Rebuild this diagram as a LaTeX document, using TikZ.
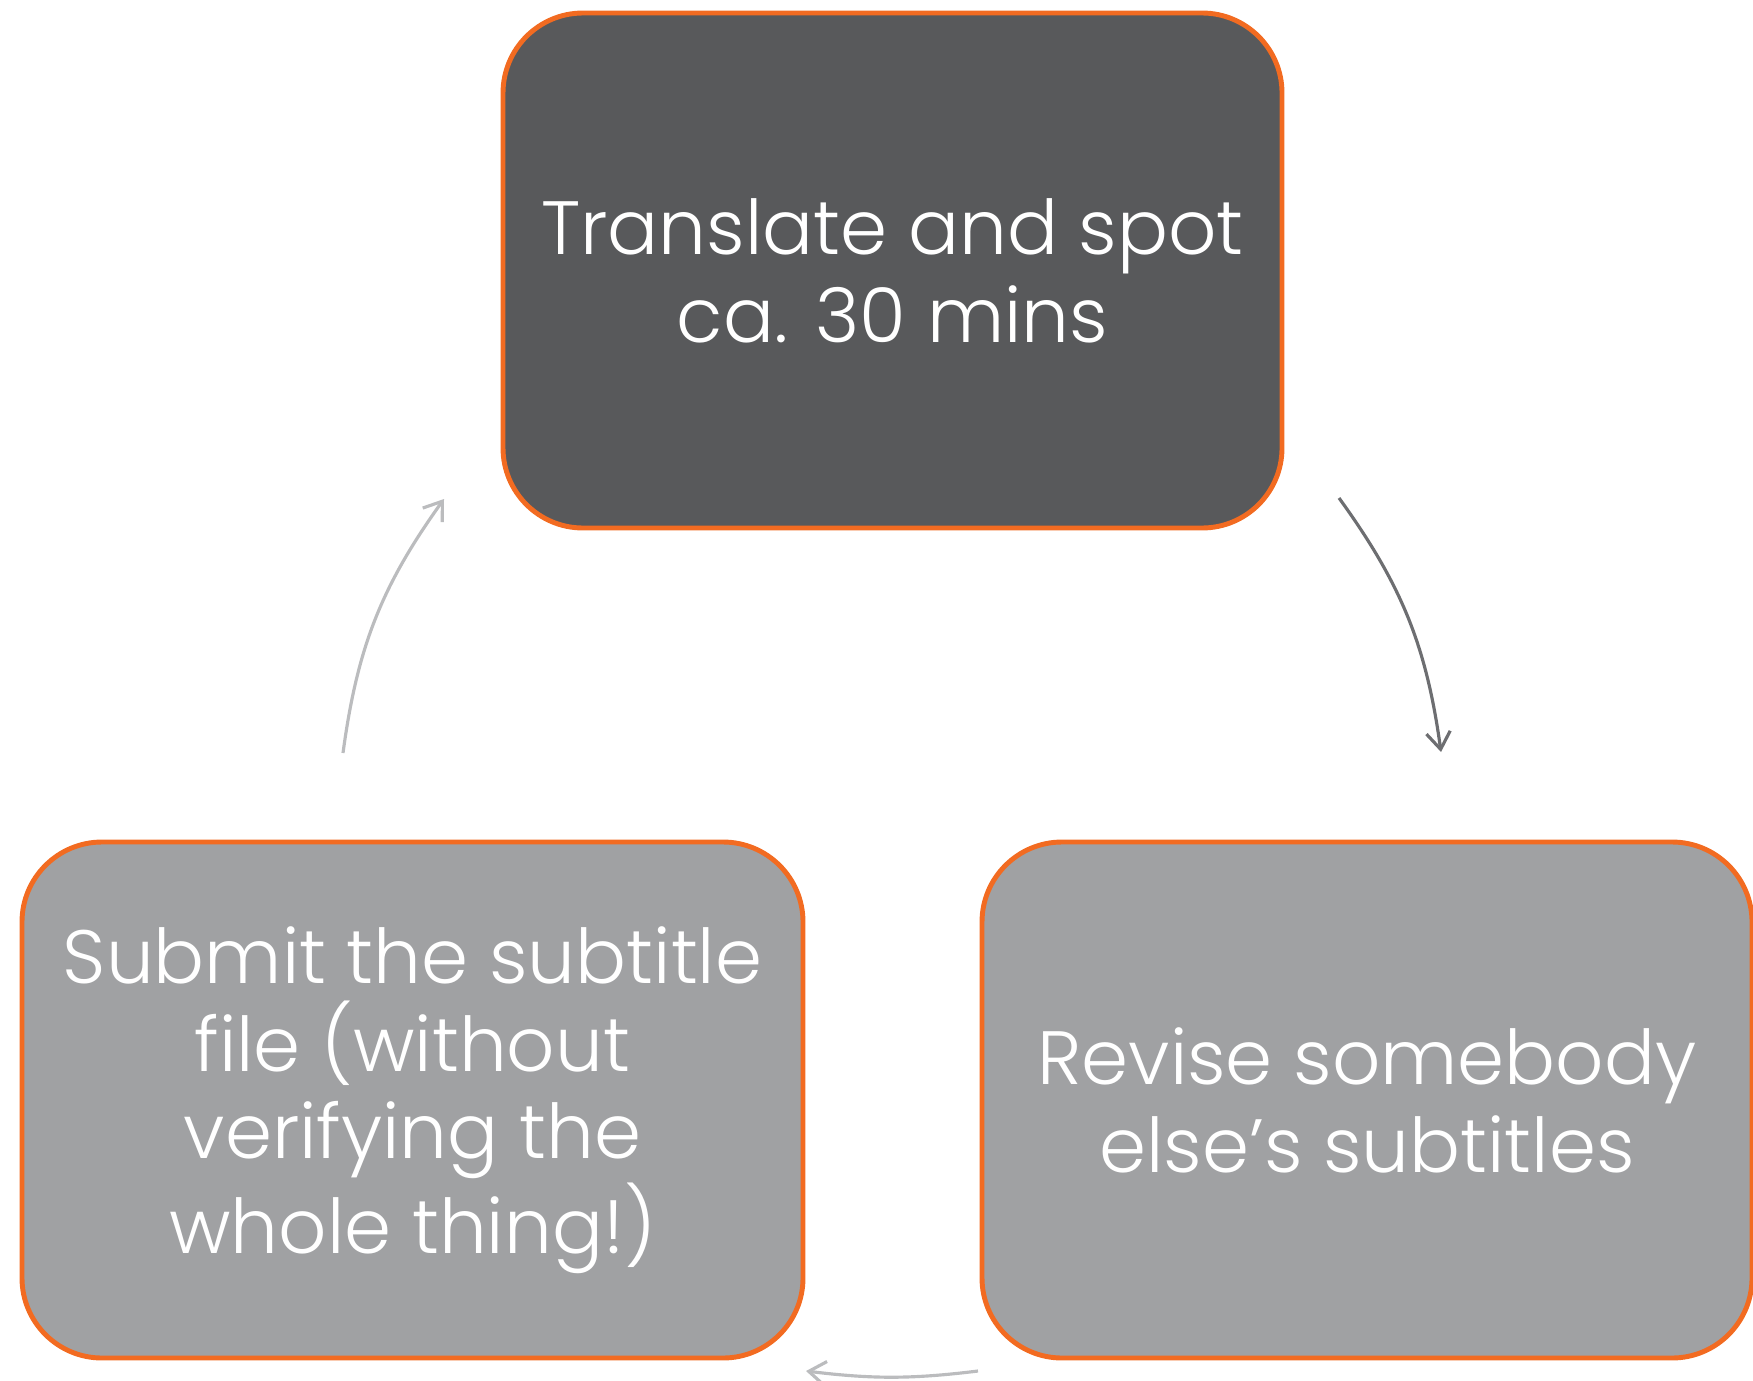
\documentclass[tikz,border=0pt]{standalone}
\usepackage{fontspec}
\setmainfont{Poppins Light}
\usetikzlibrary{arrows.meta}
\definecolor{boxorange}{HTML}{F26B21}
\definecolor{darkbox}{HTML}{58595B}
\definecolor{lightbox}{HTML}{A0A1A3}
\definecolor{arrdark}{HTML}{6D6E71}
\definecolor{arrlight}{HTML}{BBBCBE}
\begin{document}
\begin{tikzpicture}[
		stepbox/.style={draw=boxorange, line width=1.4pt, rounded corners=0.8cm, align=center, text=white, font=\fontsize{21.5}{25}\selectfont, inner sep=0pt},
		cyclearrow/.style={line width=0.9pt, -{Straight Barb[length=1.7mm,width=2.4mm]}}]
		\useasboundingbox (0,0) rectangle (17.53,-13.80);
		
		\node[stepbox, fill=darkbox, minimum width=7.79cm, minimum height=5.15cm] at (8.925,-2.705) (translate) {Translate and spot\\ca. 30 mins};
		\node[stepbox, fill=lightbox, minimum width=7.70cm, minimum height=5.16cm] at (13.67,-11.00) (revise) {Revise somebody\\else’s subtitles};
		\node[stepbox, fill=lightbox, minimum width=7.81cm, minimum height=5.16cm] at (4.125,-11.00) (submit) {Submit the subtitle\\file (without\\verifying the\\whole thing!)};
		
		\coordinate (ra) at (13.39,-4.98);
		\coordinate (rb) at (14.41,-7.52);
		\coordinate (ba) at (9.78,-13.71);
		\coordinate (bb) at (8.06,-13.71);
		\coordinate (la) at (3.43,-7.53);
		\coordinate (lb) at (4.44,-4.99);
		
		\draw[cyclearrow, arrdark] (ra) to[bend left=14] (rb);
		\draw[cyclearrow, arrlight] (ba) to[bend left=7] (bb);
		\draw[cyclearrow, arrlight] (la) to[bend left=14] (lb);
		\end{tikzpicture}
\end{document}
